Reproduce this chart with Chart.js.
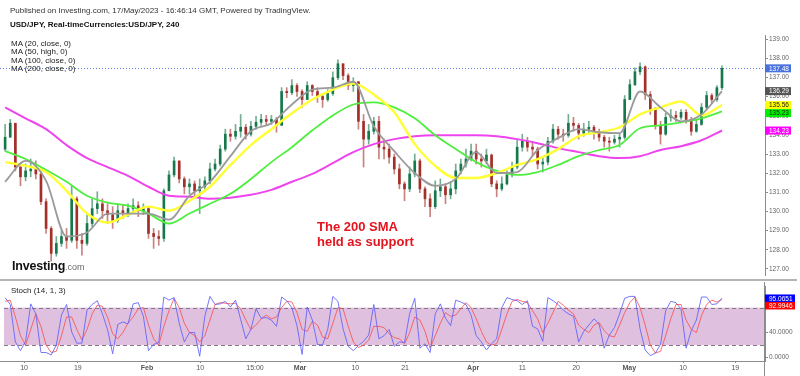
<!DOCTYPE html>
<html>
<head>
<meta charset="utf-8">
<script src="https://cdn.jsdelivr.net/npm/chart.js@4.4.1/dist/chart.umd.min.js"></script>
<style>
html,body{margin:0;padding:0;background:#fff;}
body{width:800px;height:376px;overflow:hidden;position:relative;font-family:"Liberation Sans",Arial,Helvetica,sans-serif;}
canvas{position:absolute;left:0;}
.t{position:absolute;white-space:nowrap;}
</style>
</head>
<body>
<canvas id="main" width="800" height="280" style="top:0"></canvas>
<canvas id="stoch" width="800" height="94" style="top:282px"></canvas>
<div style="position:absolute;left:0;top:279px;width:797px;height:2px;background:#b4b4b4"></div>
<div style="position:absolute;left:764px;top:282px;width:1px;height:94px;background:#8c8c8c"></div>
<div class="t" style="left:10px;top:5.5px;font-size:8px;line-height:10px;color:#333">Published on Investing.com, 17/May/2023 - 16:46:14 GMT, Powered by TradingView.</div>
<div class="t" style="left:10px;top:19.5px;font-size:8px;line-height:10px;font-weight:bold;color:#111">USD/JPY, Real-timeCurrencies:USD/JPY, 240</div>
<div class="t" style="left:11px;top:39.7px;font-size:8px;line-height:8.4px;color:#222">MA (20, close, 0)<br>MA (50, high, 0)<br>MA (100, close, 0)<br>MA (200, close, 0)</div>
<div class="t" style="left:12px;top:257px;line-height:16px;"><span style="font-size:12.5px;font-weight:bold;color:#111;letter-spacing:-0.2px">Investing</span><span style="font-size:9px;color:#666">.com</span></div>
<div class="t" style="left:317px;top:219px;font-size:13px;line-height:15px;font-weight:bold;color:#e4141e">The 200 SMA<br>held as support</div>
<div class="t" style="left:11px;top:285.5px;font-size:8px;line-height:10px;color:#222">Stoch (14, 1, 3)</div>
<script>
// ---------------- DATA ----------------
const tickPos = [3.7, 14.2, 27.7, 38.1, 48.8, 57.6, 68.4, 78.1, 91.4, 101.0, 111.5, 121.9, 132.4, 142.6];
const tickLabels = ['10', '19', 'Feb', '10', '15:00', 'Mar', '10', '21', 'Apr', '11', '20', 'May', '10', '19'];
const priceTicks = [127, 128, 129, 130, 131, 132, 133, 134, 135, 136, 137, 138, 139];
const stochTicks = [0, 40];
const stochBands = [20, 80];

const firstOpen = 133.26;
const closes = [133.88,134.61,132.32,131.81,132.12,132.22,131.96,130.51,129.11,127.81,
128.33,128.69,128.49,130.66,128.49,128.33,129.37,130.15,130.40,130.04,
129.83,129.52,130.04,129.89,130.15,130.30,130.04,130.15,128.85,128.69,
128.59,131.08,131.91,132.64,131.70,131.29,131.44,131.08,131.29,131.60,
132.22,132.48,133.26,134.04,133.93,134.19,134.40,134.04,134.45,134.66,
134.81,134.71,134.81,134.50,136.27,136.21,136.58,136.27,135.85,136.58,
136.27,136.01,135.85,136.16,136.99,137.72,137.10,136.58,136.78,134.71,
133.78,134.19,134.71,133.36,133.26,132.84,132.22,131.44,131.18,131.96,
132.64,131.18,130.66,130.25,131.08,131.29,130.87,131.18,132.12,132.48,
132.74,133.15,132.74,132.64,132.95,131.44,131.18,131.44,131.91,132.32,
133.36,133.67,133.36,133.26,132.48,132.58,133.67,134.30,134.04,133.98,
134.61,134.50,134.09,134.30,134.40,134.09,133.88,133.67,133.62,133.78,
133.88,135.85,136.63,137.30,137.56,136.11,135.33,134.50,134.04,134.92,
135.02,134.92,135.18,134.81,134.19,134.55,135.44,136.06,135.85,136.47,
137.48];
const highs = [134.55,134.81,134.61,132.48,132.48,132.74,132.64,132.12,130.66,129.21,
128.69,129.00,129.11,131.34,130.77,128.85,129.89,130.66,131.03,130.66,
130.40,130.25,130.40,130.35,130.40,130.66,130.51,130.40,130.25,129.11,
129.00,131.18,132.12,132.84,132.64,131.81,131.70,131.60,131.70,131.81,
132.53,132.74,133.47,134.30,134.30,134.55,135.07,134.55,134.71,134.97,
135.07,135.02,135.02,134.92,136.47,136.47,136.89,136.68,136.37,136.78,
136.63,136.47,136.16,136.37,137.30,137.93,137.72,137.20,136.99,136.78,
135.07,134.55,134.92,134.97,133.78,133.52,133.00,132.48,131.55,132.32,
133.00,132.74,131.29,130.92,131.60,131.70,131.44,131.55,132.48,132.74,
133.26,133.52,133.52,133.00,133.26,133.00,131.60,131.81,132.12,132.58,
133.78,134.04,133.88,133.67,133.36,132.84,133.88,134.55,134.45,134.30,
135.07,134.92,134.61,134.61,134.71,134.50,134.30,133.98,133.88,133.98,
134.09,136.06,136.89,137.51,137.77,137.61,136.27,135.44,134.71,135.13,
135.33,135.23,135.33,135.33,134.92,134.81,135.64,136.27,136.16,136.58,
137.61];
const lows = [133.15,134.04,132.12,131.34,131.60,131.81,131.70,130.35,128.85,127.40,
127.66,128.17,128.07,128.38,128.07,127.71,128.23,129.21,129.89,129.63,
129.37,129.11,129.42,129.63,129.73,129.89,129.73,129.83,128.59,128.07,
128.23,128.43,131.08,131.81,131.49,130.92,130.92,130.77,129.89,131.08,
131.44,132.12,132.38,133.15,133.67,133.78,133.88,133.78,133.93,134.30,
134.50,134.50,134.55,134.14,134.50,135.95,136.11,136.01,135.44,135.85,
136.06,135.70,135.44,135.75,136.06,136.89,136.89,136.37,136.27,134.30,
132.32,133.52,134.04,132.74,132.74,132.53,131.96,131.18,130.56,131.03,
131.81,130.98,130.25,129.73,130.15,130.77,130.40,130.66,130.92,131.96,
132.32,132.64,132.48,132.32,132.48,131.29,130.77,131.08,131.39,131.81,
132.22,133.15,133.15,132.95,132.22,132.06,132.43,133.57,133.78,133.67,
133.88,134.19,133.78,133.93,134.04,133.78,133.67,133.36,133.15,133.52,
133.36,133.78,135.85,136.58,137.15,135.85,135.07,134.30,133.52,133.98,
134.71,134.71,134.81,134.61,133.98,134.14,134.50,135.33,135.64,135.75,
136.37];

const maIndex = [0,4,8,12,16,20,24,28,32,36,40,44,48,52,56,60,64,68,72,76,80,84,88,92,96,100,104,108,112,116,120,124,128,132,136,140];
const ma20 = [131.55,132.64,131.60,128.69,128.90,129.89,129.89,129.89,129.57,130.82,131.55,132.89,134.19,134.61,135.59,136.37,136.47,136.78,134.45,133.15,132.01,131.34,131.70,133.10,132.01,132.06,133.21,133.83,134.30,134.14,134.09,136.27,135.44,134.71,135.07,136.29];
const ma50 = [132.58,132.38,132.06,131.08,129.89,129.42,129.83,130.25,130.04,130.56,131.29,132.43,133.47,134.30,135.13,135.85,136.37,136.68,136.11,135.18,133.52,132.38,131.75,131.75,132.01,132.43,132.74,133.26,133.93,134.14,134.40,135.07,135.44,135.75,135.02,135.56];
const ma100 = [133.15,132.74,132.17,131.55,130.82,130.46,130.30,129.89,129.37,129.89,130.40,130.92,131.70,132.58,133.36,134.24,135.02,135.59,135.70,135.44,134.87,133.98,133.26,132.58,132.12,131.91,132.06,132.43,132.89,133.21,133.47,134.35,134.50,134.66,134.87,135.23];
const ma200 = [135.44,134.87,134.30,133.47,132.79,132.32,131.86,131.29,130.82,130.77,130.66,130.72,130.87,131.13,131.55,131.96,132.53,133.10,133.52,133.78,133.93,133.98,133.98,133.98,133.93,133.78,133.57,133.31,133.10,132.89,132.79,132.89,133.21,133.41,133.72,134.23];

const stochK = [96,85,25,11,26,86,70,8,8,4,
20,68,85,41,23,23,76,85,91,70,
45,6,53,57,54,86,88,66,11,21,
24,97,92,96,55,25,40,40,2,66,
98,85,86,90,81,92,61,30,45,78,
63,64,60,50,97,91,80,51,5,81,
60,21,20,45,98,90,46,18,11,19,
26,36,85,30,35,45,18,25,24,70,
95,15,22,8,70,86,63,51,92,89,
85,68,35,25,12,22,30,80,96,93,
91,85,91,50,46,26,96,91,85,76,
70,66,25,42,52,62,54,15,36,48,
70,95,98,98,46,12,3,7,21,75,
90,88,78,15,43,60,97,97,85,86,
95.0651];
const stochD = [90,92,65,35,20,45,70,50,20,8,
10,35,65,65,45,28,45,70,84,82,
65,38,30,40,55,65,78,80,52,30,
20,50,75,95,80,55,40,35,25,35,
60,85,88,87,86,87,78,60,45,52,
62,68,62,65,80,90,89,72,45,42,
58,52,33,30,55,80,78,50,25,16,
20,28,50,50,48,38,32,30,22,40,
65,60,42,15,35,55,72,66,68,78,
88,80,62,42,25,20,22,45,70,90,
93,90,88,75,62,40,55,72,90,84,
76,70,52,45,40,52,56,43,35,33,
52,72,88,97,80,52,20,7,10,35,
62,85,85,60,45,40,67,85,92,89,
92.9946];

// axis ranges
const xMin = -1, xMax = 148.4;
const priceMin = 126.673, priceMax = 139.223;
const stochMin = -5.6, stochMax = 113.2;

// ---------------- BUILD ----------------
Chart.defaults.font.family = '"Liberation Sans", Arial, Helvetica, sans-serif';
const opens = closes.map((c, i) => i === 0 ? firstOpen : closes[i - 1]);
const upCol = '#16784b', dnCol = '#a32f29';
const upWick = 'rgba(22,120,75,0.6)', dnWick = 'rgba(163,47,41,0.6)';
const isUp = closes.map((c, i) => c >= opens[i]);
const bodyData = closes.map((c, i) => ({x: i, y: [opens[i], c]}));
const wickData = closes.map((c, i) => ({x: i, y: [Math.min(lows[i], opens[i], c), Math.max(highs[i], opens[i], c)]}));

function maLine(vals, color, w, order) {
  return {type: 'line', data: vals.map((v, k) => ({x: maIndex[k], y: v})), borderColor: color, borderWidth: w,
    pointRadius: 0, tension: 0.4, cubicInterpolationMode: 'monotone', fill: false, order: order};
}

function drawBoxes(chart, items, w, h, fontSize) {
  const ctx = chart.ctx, y = chart.scales.y, left = chart.chartArea.right;
  const list = items.map(it => Object.assign({py: y.getPixelForValue(it.v)}, it)).sort((a, b) => a.py - b.py);
  for (let i = 1; i < list.length; i++) if (list[i].py < list[i - 1].py + h) list[i].py = list[i - 1].py + h;
  ctx.save();
  ctx.font = fontSize + 'px "Liberation Sans", Arial, sans-serif';
  ctx.textBaseline = 'middle'; ctx.textAlign = 'left';
  list.forEach(it => {
    ctx.fillStyle = it.bg;
    ctx.fillRect(left, it.py - h / 2, w, h);
    ctx.fillStyle = it.fg;
    ctx.fillText(it.txt, left + 4, it.py + 0.5);
  });
  ctx.restore();
}

const mainPlugin = {
  id: 'mainDeco',
  beforeDatasetsDraw(chart) {
    const {ctx, chartArea: a, scales: {y}} = chart;
    const py = Math.round(y.getPixelForValue(closes[closes.length - 1])) + 0.5;
    ctx.save();
    ctx.strokeStyle = '#5b7fe0'; ctx.lineWidth = 1; ctx.setLineDash([1, 2]);
    ctx.beginPath(); ctx.moveTo(a.left, py); ctx.lineTo(a.right, py); ctx.stroke();
    ctx.restore();
  },
  afterDraw(chart) {
    const L = a => a[a.length - 1];
    drawBoxes(chart, [
      {v: L(closes), bg: '#4a72dc', fg: '#ffffff', txt: L(closes).toFixed(2)},
      {v: L(ma20), bg: '#555555', fg: '#ffffff', txt: L(ma20).toFixed(2)},
      {v: L(ma50), bg: '#ffff00', fg: '#222222', txt: L(ma50).toFixed(2)},
      {v: L(ma100), bg: '#00ee00', fg: '#222222', txt: L(ma100).toFixed(2)},
      {v: L(ma200), bg: '#ff00ff', fg: '#ffffff', txt: L(ma200).toFixed(2)}
    ], 26, 8, 6.5);
  }
};

const stochPlugin = {
  id: 'stochDeco',
  beforeDatasetsDraw(chart) {
    const {ctx, chartArea: a, scales: {y}} = chart;
    const yTop = y.getPixelForValue(stochBands[1]), yBot = y.getPixelForValue(stochBands[0]);
    ctx.save();
    ctx.fillStyle = '#dfc1df';
    ctx.fillRect(a.left + 4, yTop, a.right - a.left - 4, yBot - yTop);
    ctx.strokeStyle = '#85768a'; ctx.lineWidth = 1; ctx.setLineDash([4, 3]);
    [yTop, yBot].forEach(yy => {
      ctx.beginPath(); ctx.moveTo(a.left + 4, Math.round(yy) + 0.5); ctx.lineTo(a.right, Math.round(yy) + 0.5); ctx.stroke();
    });
    ctx.restore();
  },
  afterDraw(chart) {
    const L = a => a[a.length - 1];
    drawBoxes(chart, [
      {v: L(stochK), bg: '#0000ff', fg: '#ffffff', txt: L(stochK).toFixed(4)},
      {v: L(stochD), bg: '#ff0000', fg: '#ffffff', txt: L(stochD).toFixed(4)}
    ], 30, 7.5, 6.5);
  }
};

new Chart(document.getElementById('main'), {
  type: 'bar',
  data: {
    datasets: [
      {data: wickData, backgroundColor: isUp.map(u => u ? upWick : dnWick), barThickness: 1, grouped: false, order: 10},
      {data: bodyData, backgroundColor: isUp.map(u => u ? upCol : dnCol), barThickness: 2, grouped: false, minBarLength: 1, order: 9},
      maLine(ma200, '#ee44ee', 2, 4),
      maLine(ma100, '#4eee3e', 1.8, 3),
      maLine(ma50, '#ffff33', 2.4, 2),
      maLine(ma20, '#9a9a9a', 1.8, 1)
    ]
  },
  options: {
    responsive: false, animation: false, devicePixelRatio: 1, events: [],
    layout: {padding: {top: 35, bottom: 3, left: 0, right: 0}},
    plugins: {legend: {display: false}, tooltip: {enabled: false}},
    scales: {
      x: {type: 'linear', min: xMin, max: xMax, offset: false, display: false, grid: {display: false}},
      y: {
        type: 'linear', position: 'right', min: priceMin, max: priceMax,
        afterBuildTicks: a => { a.ticks = priceTicks.map(v => ({value: v})); },
        afterFit: a => { a.width = 35; },
        grid: {drawOnChartArea: false, drawTicks: true, tickLength: 3, color: '#8c8c8c'},
        border: {display: true, color: '#8c8c8c'},
        ticks: {padding: 1, color: '#666', font: {size: 6.5}, callback: v => Number(v).toFixed(2)}
      }
    }
  },
  plugins: [mainPlugin]
});

new Chart(document.getElementById('stoch'), {
  type: 'line',
  data: {
    datasets: [
      {data: stochK.map((v, i) => ({x: i, y: v})), borderColor: 'rgba(95,95,250,0.85)', borderWidth: 1, pointRadius: 0, tension: 0, fill: false, order: 1},
      {data: stochD.map((v, i) => ({x: i, y: v})), borderColor: 'rgba(250,75,75,0.8)', borderWidth: 1, pointRadius: 0, tension: 0, fill: false, order: 2}
    ]
  },
  options: {
    responsive: false, animation: false, devicePixelRatio: 1, events: [],
    layout: {padding: {top: 0, bottom: 0, left: 0, right: 0}},
    plugins: {legend: {display: false}, tooltip: {enabled: false}},
    scales: {
      x: {
        type: 'linear', min: xMin, max: xMax, offset: false,
        afterBuildTicks: a => { a.ticks = tickPos.map(v => ({value: v})); },
        afterFit: a => { a.height = 15; },
        grid: {drawOnChartArea: false, drawTicks: true, tickLength: 2, color: '#8c8c8c'},
        border: {display: true, color: '#8c8c8c'},
        ticks: {autoSkip: false, maxRotation: 0, minRotation: 0, padding: 1, color: '#555',
          font: ctx => ({size: 7, weight: /^[A-Za-z]/.test(tickLabels[ctx.index] || '') ? 'bold' : 'normal'}),
          callback: (v, i) => tickLabels[i]}
      },
      y: {
        type: 'linear', position: 'right', min: stochMin, max: stochMax,
        afterBuildTicks: a => { a.ticks = stochTicks.map(v => ({value: v})); },
        afterFit: a => { a.width = 35; },
        grid: {drawOnChartArea: false, drawTicks: true, tickLength: 3, color: '#8c8c8c'},
        border: {display: true, color: '#8c8c8c'},
        ticks: {padding: 1, color: '#666', font: {size: 6.5}, callback: v => Number(v).toFixed(4)}
      }
    }
  },
  plugins: [stochPlugin]
});
</script>
</body>
</html>
